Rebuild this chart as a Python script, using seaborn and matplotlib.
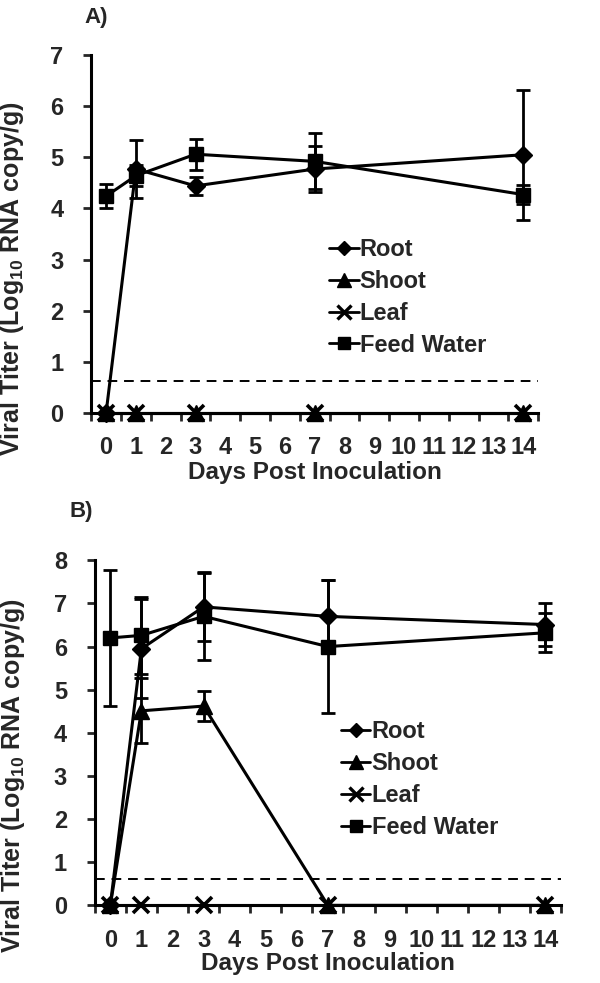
import numpy as np
import pandas as pd
import matplotlib
matplotlib.use('Agg')
import matplotlib.pyplot as plt
import seaborn as sns

# dados
days = [0, 1, 3, 7, 14]
tecidos = ['Root', 'Shoot', 'Leaf', 'Feed Water']

# painel A
a_root = [0, 4.77, 4.44, 4.77, 5.05]
a_root_err = [0, 0.57, 0.18, 0.45, 1.27]
a_shoot = [0, 0, 0, 0, 0]
a_leaf = [0, 0, 0, 0, 0]
a_feed = [4.24, 4.64, 5.06, 4.92, 4.27]
a_feed_err = [0.24, 0.2, 0.3, 0.55, 0.18]

# painel B
b_root = [0, 5.95, 6.92, 6.70, 6.51]
b_root_err = [0, 1.15, 0.78, 0.85, 0.5]
b_shoot = [0, 4.51, 4.62, 0, 0]
b_shoot_err = [0, 0.75, 0.35, 0, 0]
b_leaf = [0, 0, 0, 0, 0]
b_feed = [6.2, 6.26, 6.70, 6.0, 6.32]
b_feed_err = [1.58, 0.9, 1.02, 1.55, 0.45]

limite = 0.62  # limite de detecção (linha tracejada)

sns.set_theme(style='white')
plt.rcParams['font.family'] = ['Liberation Sans', 'DejaVu Sans']
plt.rcParams['font.weight'] = 'bold'
plt.rcParams['mathtext.fontset'] = 'custom'
plt.rcParams['mathtext.bf'] = 'Liberation Sans:bold'
plt.rcParams['mathtext.rm'] = 'Liberation Sans:bold'

marcadores = {'Root': 'D', 'Shoot': '^', 'Leaf': 'x', 'Feed Water': 's'}
tamanhos = {'Root': 9, 'Shoot': 12, 'Leaf': 12, 'Feed Water': 10}


def painel(ax, valores, erros, ymax, letra, leg_pos, letra_pos):
    for t in tecidos:
        df = pd.DataFrame({'dia': days, 'titer': valores[t]})
        sns.lineplot(data=df, x='dia', y='titer', color='black', linewidth=2.2,
                     marker=marcadores[t], markersize=tamanhos[t],
                     markeredgewidth=2.6 if t == 'Leaf' else 1,
                     markeredgecolor='black', markerfacecolor='black',
                     ax=ax, zorder=3, clip_on=False)
    for t, e in erros.items():
        ax.errorbar(days, valores[t], yerr=e, fmt='none', ecolor='black',
                    elinewidth=2, capsize=5, capthick=2, zorder=2)
    ax.axhline(limite, color='black', linestyle=(0, (5, 3.5)), linewidth=1.4)

    ax.set_xlim(-0.5, 14.5)
    ax.set_ylim(0, ymax)
    ax.set_xticks(range(15))
    ax.set_xticks(np.arange(-0.5, 15, 1), minor=True)
    ax.tick_params(axis='x', which='major', length=0, labelsize=17, pad=17)
    ax.tick_params(axis='x', which='minor', length=6, width=2, direction='out',
                   bottom=True)
    ax.tick_params(axis='y', which='major', length=6, width=2, direction='out',
                   labelsize=17, left=True, pad=14)
    ax.set_yticks(range(ymax + 1))
    for s in ['top', 'right']:
        ax.spines[s].set_visible(False)
    for s in ['left', 'bottom']:
        ax.spines[s].set_linewidth(2.2)
        ax.spines[s].set_color('black')
    for lbl in ax.get_xticklabels() + ax.get_yticklabels():
        lbl.set_fontweight('bold')
    ax.set_xlabel('Days Post Inoculation', fontsize=17.5, fontweight='bold')
    ax.set_ylabel('Viral Titer (Log$_{\\mathbf{10}}$ RNA copy/g)', fontsize=18,
                  fontweight='bold')
    ax.xaxis.set_label_coords(0.5, -0.135)
    ax.yaxis.set_label_coords(-0.145, 0.375)

    handles = [plt.Line2D([], [], color='black', linewidth=2, marker=marcadores[t],
                          markersize=tamanhos[t] - 2,
                          markeredgewidth=2.4 if t == 'Leaf' else 1,
                          markerfacecolor='black', markeredgecolor='black')
               for t in tecidos]
    ax.legend(handles, tecidos, loc='center left', bbox_to_anchor=leg_pos,
              frameon=False, handlelength=1.25, handletextpad=0.05,
              labelspacing=0.38, borderpad=0, borderaxespad=0,
              prop={'weight': 'bold', 'size': 17})
    ax.text(letra_pos[0], letra_pos[1], letra, transform=ax.transAxes,
            fontsize=16, fontweight='bold', va='baseline')


fig = plt.figure(figsize=(6, 9.83), dpi=100)
ax1 = fig.add_axes([0.152, 0.580, 0.745, 0.364])
ax2 = fig.add_axes([0.158, 0.079, 0.777, 0.351])

painel(ax1,
       {'Root': a_root, 'Shoot': a_shoot, 'Leaf': a_leaf, 'Feed Water': a_feed},
       {'Root': a_root_err, 'Feed Water': a_feed_err}, 7, 'A)',
       (0.532, 0.323), (-0.016, 1.089))
painel(ax2,
       {'Root': b_root, 'Shoot': b_shoot, 'Leaf': b_leaf, 'Feed Water': b_feed},
       {'Root': b_root_err, 'Shoot': b_shoot_err, 'Feed Water': b_feed_err}, 8, 'B)',
       (0.528, 0.365), (-0.055, 1.125))

fig.savefig('out.png', dpi=100)
